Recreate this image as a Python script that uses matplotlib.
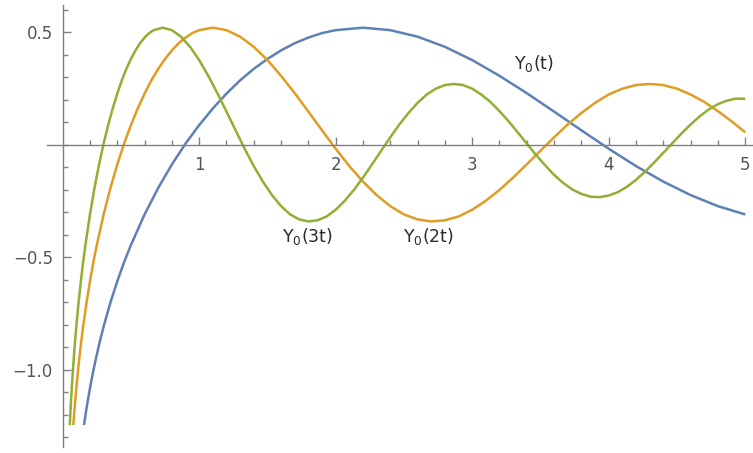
import numpy as np
import matplotlib
matplotlib.use("Agg")
import matplotlib.pyplot as plt
from matplotlib.ticker import FixedLocator

plt.rcParams['font.family'] = ['DejaVu Sans']
plt.rcParams['mathtext.default'] = 'regular'

# Y0(t)
t_blue = [0.156, 0.17, 0.185, 0.2, 0.22, 0.24, 0.27, 0.3, 0.35, 0.4, 0.45, 0.5,
          0.6, 0.7, 0.8, 0.9, 1.0, 1.1, 1.2, 1.3, 1.4, 1.5, 1.6, 1.7, 1.8, 1.9,
          2.0, 2.2, 2.4, 2.6, 2.8, 3.0, 3.2, 3.4, 3.6, 3.8, 4.0, 4.2, 4.4, 4.6,
          4.8, 5.0]
y_blue = [-1.245, -1.189, -1.133, -1.081, -1.018, -0.959, -0.879, -0.807, -0.700,
          -0.606, -0.521, -0.445, -0.309, -0.191, -0.087, 0.006, 0.088, 0.162,
          0.228, 0.287, 0.338, 0.382, 0.420, 0.452, 0.477, 0.497,
          0.510, 0.521, 0.510, 0.481, 0.436, 0.377, 0.307, 0.230, 0.148, 0.065,
          -0.017, -0.094, -0.163, -0.223, -0.272, -0.309]

# Y0(2t)
t_orange = [0.078, 0.085, 0.0925, 0.1, 0.11, 0.12, 0.135, 0.15, 0.175, 0.2, 0.225,
            0.25, 0.3, 0.35, 0.4, 0.45, 0.5, 0.55, 0.6, 0.65, 0.7, 0.75, 0.8,
            0.85, 0.9, 0.95,
            1.0, 1.1, 1.2, 1.3, 1.4, 1.5, 1.6, 1.7, 1.8, 1.9, 2.0, 2.1, 2.2, 2.3,
            2.4, 2.5, 2.6, 2.7, 2.8, 2.9, 3.0, 3.1, 3.2, 3.3, 3.4, 3.5, 3.6, 3.7,
            3.8, 3.9, 4.0, 4.1, 4.2, 4.3, 4.4, 4.5, 4.6, 4.7, 4.8, 4.9, 5.0]
y_orange = [-1.245, -1.189, -1.133, -1.081, -1.018, -0.959, -0.879, -0.807, -0.700,
            -0.606, -0.521, -0.445, -0.309, -0.191, -0.087, 0.006, 0.088, 0.162,
            0.228, 0.287, 0.338, 0.382, 0.420, 0.452, 0.477, 0.497,
            0.510, 0.521, 0.510, 0.481, 0.436, 0.377, 0.307, 0.230, 0.148, 0.065,
            -0.017, -0.094, -0.163, -0.223, -0.272, -0.309, -0.331, -0.340,
            -0.335, -0.318, -0.288, -0.248, -0.200, -0.145, -0.086, -0.026,
            0.034, 0.091, 0.142, 0.187, 0.224, 0.250, 0.266, 0.271, 0.266,
            0.250, 0.224, 0.191, 0.150, 0.105, 0.056]

# Y0(3t)
t_green = [0.052, 0.0567, 0.0617, 0.0667, 0.0733, 0.08, 0.09, 0.1, 0.1167, 0.1333,
           0.15, 0.1667, 0.2, 0.2333, 0.2667, 0.3, 0.3333, 0.3667, 0.4, 0.4333,
           0.4667, 0.5, 0.5333, 0.5667, 0.6, 0.6333,
           0.6667, 0.7333, 0.8, 0.8667, 0.9333, 1.0, 1.0667, 1.1333, 1.2, 1.2667,
           1.3333, 1.4, 1.4667, 1.5333, 1.6, 1.6667, 1.7333, 1.8, 1.8667, 1.9333,
           2.0, 2.0667, 2.1333, 2.2, 2.2667, 2.3333, 2.4, 2.4667, 2.5333, 2.6,
           2.6667, 2.7333, 2.8, 2.8667, 2.9333, 3.0, 3.0667, 3.1333, 3.2, 3.2667,
           3.3333, 3.4, 3.4667, 3.5333, 3.6, 3.6667, 3.7333, 3.8, 3.8667, 3.9333,
           4.0, 4.0667, 4.1333, 4.2, 4.2667, 4.3333, 4.4, 4.4667, 4.5333, 4.6,
           4.6667, 4.7333, 4.8, 4.8667, 4.9333, 5.0]
y_green = [-1.245, -1.189, -1.133, -1.081, -1.018, -0.959, -0.879, -0.807, -0.700,
           -0.606, -0.521, -0.445, -0.309, -0.191, -0.087, 0.006, 0.088, 0.162,
           0.228, 0.287, 0.338, 0.382, 0.420, 0.452, 0.477, 0.497,
           0.510, 0.521, 0.510, 0.481, 0.436, 0.377, 0.307, 0.230, 0.148, 0.065,
           -0.017, -0.094, -0.163, -0.223, -0.272, -0.309, -0.331, -0.340,
           -0.335, -0.318, -0.288, -0.248, -0.200, -0.145, -0.086, -0.026,
           0.034, 0.091, 0.142, 0.187, 0.224, 0.250, 0.266, 0.271, 0.266,
           0.250, 0.224, 0.191, 0.150, 0.105, 0.056, 0.006, -0.044, -0.090,
           -0.133, -0.169, -0.198, -0.218, -0.230, -0.232, -0.225, -0.210,
           -0.186, -0.155, -0.119, -0.078, -0.035, 0.008, 0.051, 0.091, 0.127,
           0.158, 0.181, 0.197, 0.206, 0.205]

labels = ['$Y_0$(t)', '$Y_0$(2t)', '$Y_0$(3t)']
label_pos = [(3.45, 0.36), (2.68, -0.405), (1.79, -0.405)]
colors = ['#5E81B5', '#E19C24', '#8FB032']

x_major = [1, 2, 3, 4, 5]
y_major = [-1.0, -0.5, 0.5]

fig = plt.figure(figsize=(7.53, 4.53), dpi=100)
ax = fig.add_axes([0, 0, 1, 1])

for t, y, c in [(t_blue, y_blue, colors[0]), (t_orange, y_orange, colors[1]),
                (t_green, y_green, colors[2])]:
    ax.plot(t, y, color=c, lw=1.8, solid_joinstyle='round', solid_capstyle='butt')

for lab, (px, py) in zip(labels, label_pos):
    ax.text(px, py, lab, ha='center', va='center', fontsize=12.5, color='#2a2a2a')

ax.set_xlim(-0.459, 5.057)
ax.set_ylim(-1.369, 0.644)

axis_col = '#808080'
for s in ['top', 'right']:
    ax.spines[s].set_visible(False)
ax.spines['left'].set_position(('data', 0))
ax.spines['bottom'].set_position(('data', 0))
ax.spines['left'].set_bounds(-1.342, 0.622)
ax.spines['bottom'].set_bounds(-0.113, 5.057)
for s in ['left', 'bottom']:
    ax.spines[s].set_color(axis_col)
    ax.spines[s].set_linewidth(1.0)

ax.xaxis.set_major_locator(FixedLocator(x_major))
ax.xaxis.set_minor_locator(FixedLocator(np.arange(0.2, 5.01, 0.2)))
ax.yaxis.set_major_locator(FixedLocator(y_major))
ax.yaxis.set_minor_locator(FixedLocator(np.arange(-1.3, 0.61, 0.1)))
ax.set_xticklabels([str(v) for v in x_major])
ax.set_yticklabels(['\u22121.0', '\u22120.5', '0.5'])

ax.tick_params(which='both', direction='in', color=axis_col, width=1.0,
               labelcolor='#555555', labelsize=12)
ax.tick_params(which='major', length=6)
ax.tick_params(which='minor', length=3.5)
ax.tick_params(axis='x', pad=8)
ax.tick_params(axis='y', pad=7)

fig.savefig('out.png', dpi=100)
